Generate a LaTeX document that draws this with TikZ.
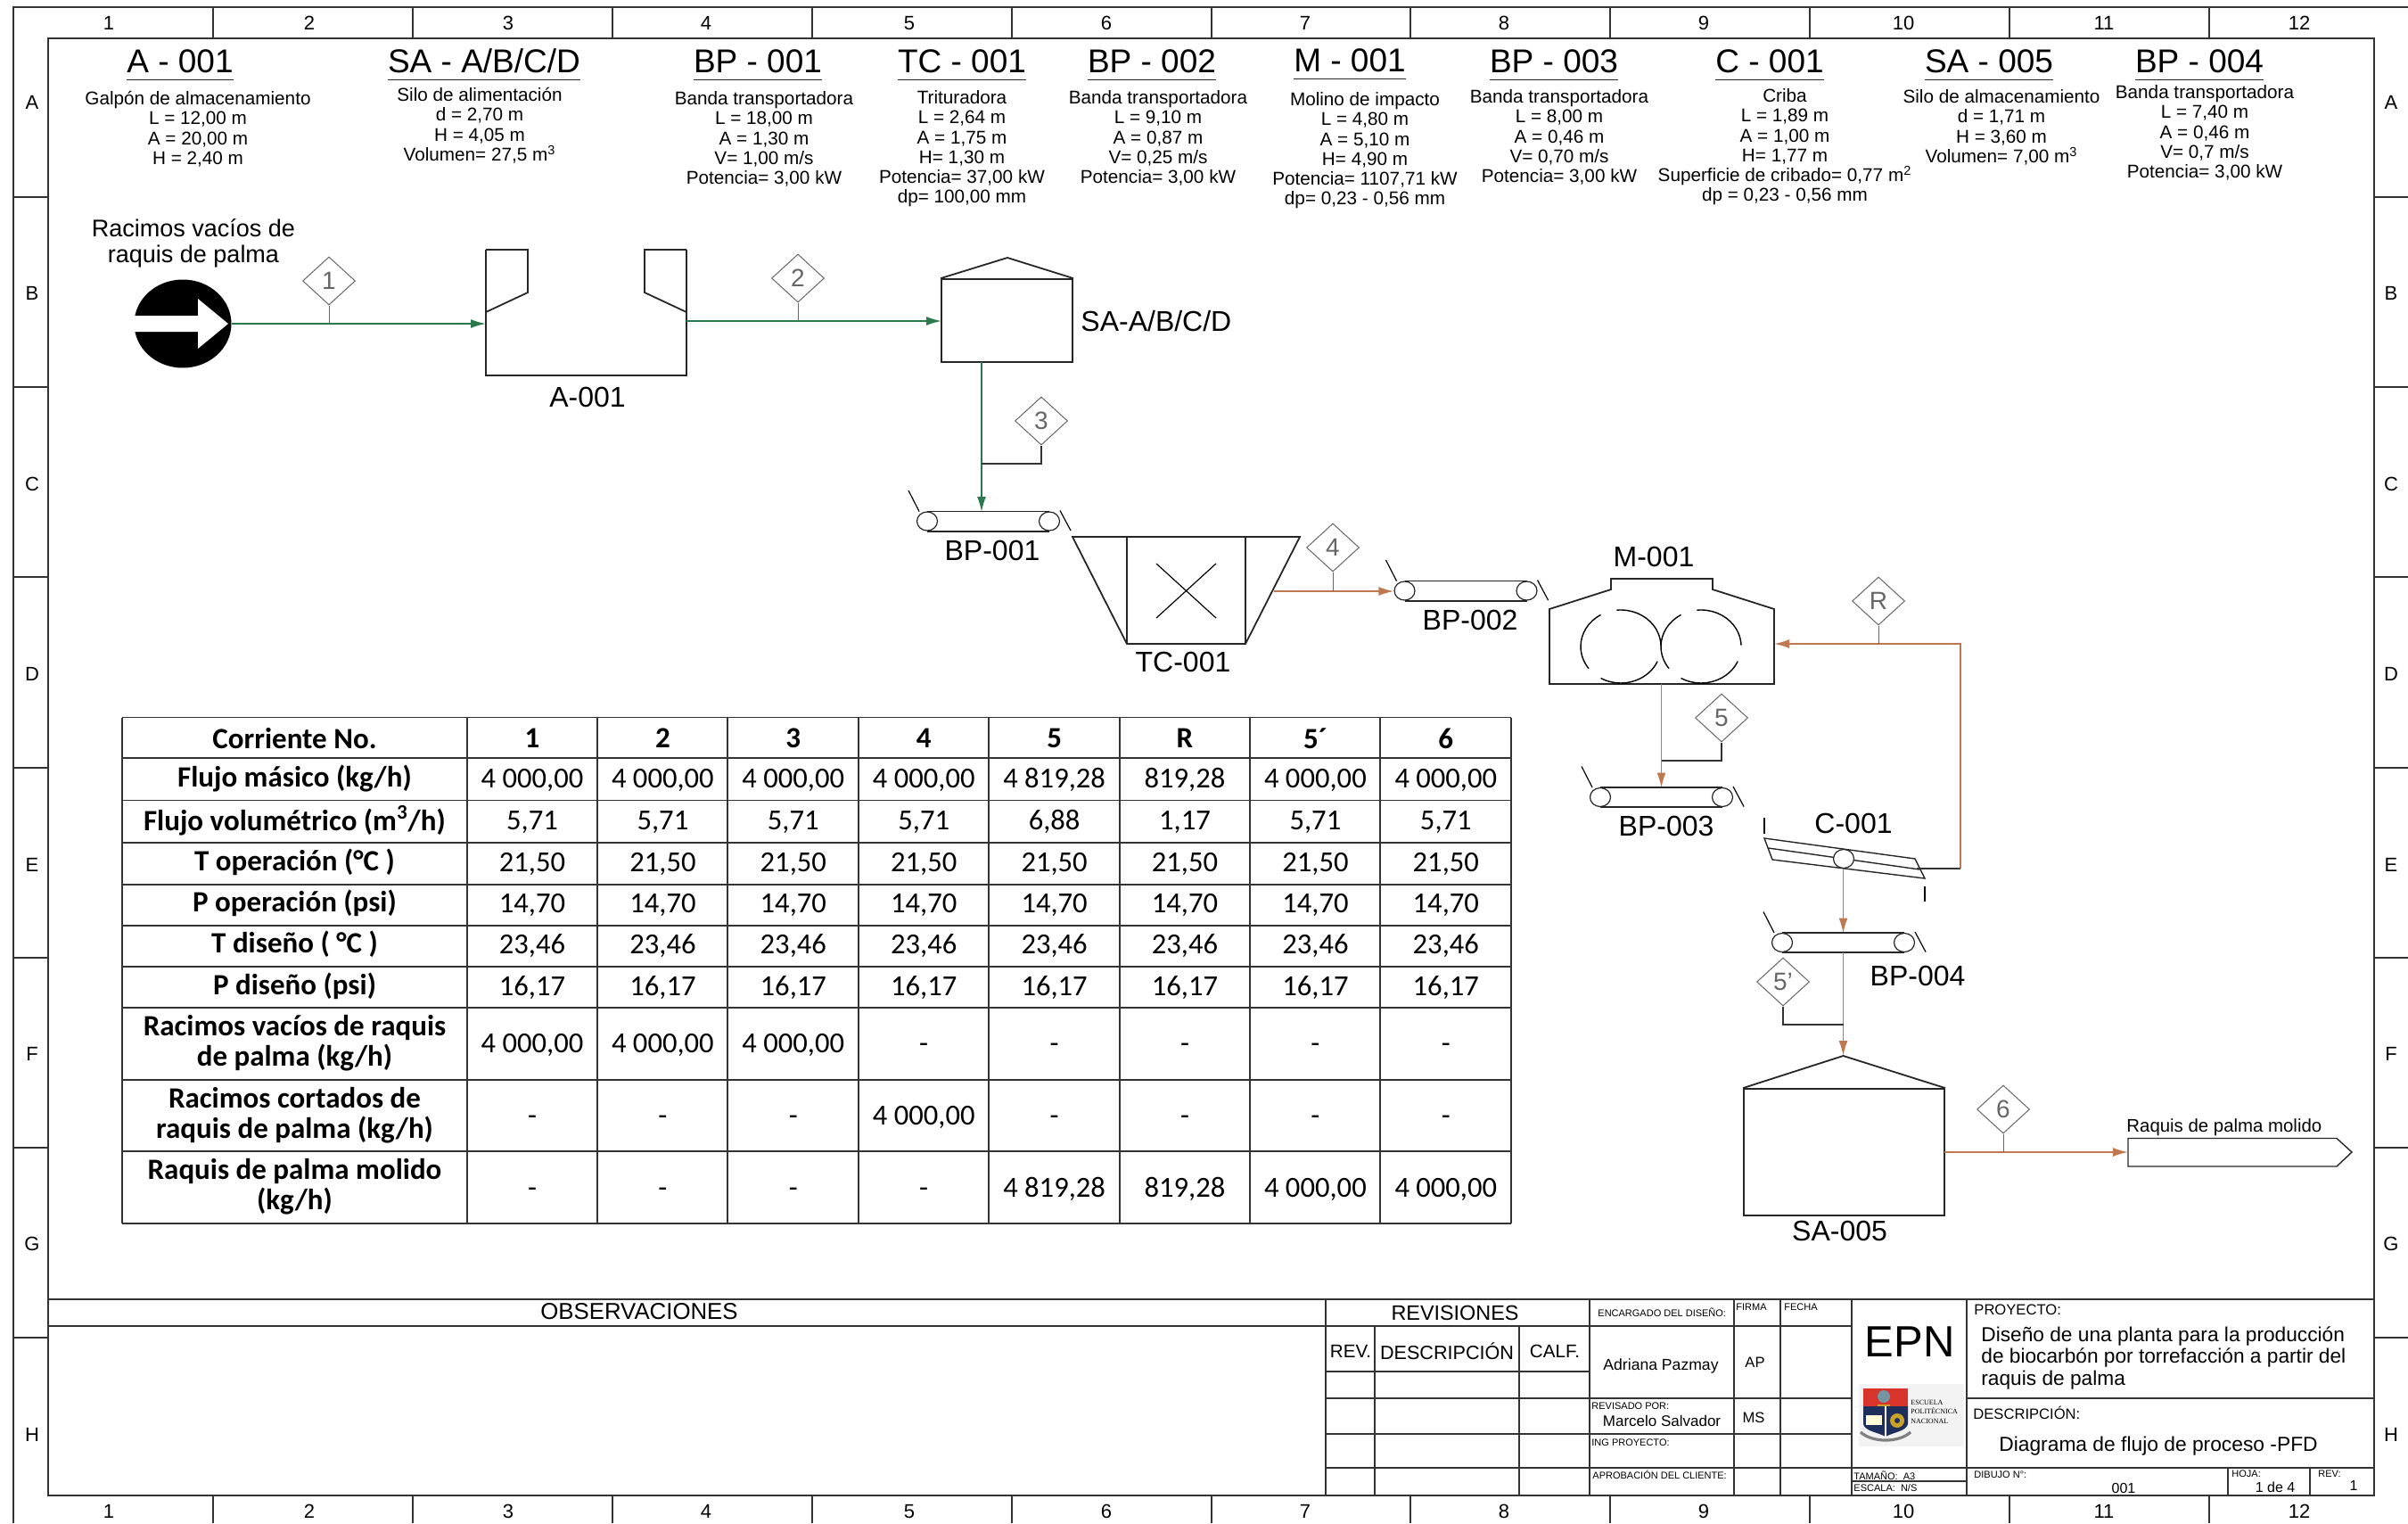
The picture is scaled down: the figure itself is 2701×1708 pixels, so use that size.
\documentclass[tikz,border=0pt]{standalone}
\usepackage{fontspec}
\usepackage{xcolor}
\setmainfont{Liberation Sans}
\newfontfamily\tablafont{Carlito}
\newfontfamily\escudofont{Liberation Serif}
\usetikzlibrary{arrows.meta,shapes.geometric}
\definecolor{flujoverde}{HTML}{2A7A4E}
\definecolor{flujonaranja}{HTML}{BF7850}
\definecolor{marcotinta}{HTML}{333333}
\definecolor{taggris}{HTML}{666666}
\definecolor{escudorojo}{HTML}{D8342B}
\definecolor{escudoazul}{HTML}{1F2F5C}
\definecolor{escudooro}{HTML}{C9A227}
\definecolor{escudofondo}{HTML}{F3F3F3}

\begin{document}
\begin{tikzpicture}[
  x=0.5pt,y=-0.5pt,
  marco/.style={draw=marcotinta,line width=0.9pt},
  equipo/.style={draw=black!85,line width=0.9pt},
  rejilla/.style={draw=marcotinta,line width=0.7pt},
  verde/.style={draw=flujoverde,line width=0.9pt,-{Latex[length=8.5pt,width=5pt]}},
  naranja/.style={draw=flujonaranja,line width=0.9pt,-{Latex[length=8.5pt,width=5pt]}},
  tag/.style={diamond,draw=taggris,line width=0.5pt,text=taggris,minimum width=29.5pt,minimum height=27pt,inner sep=0pt,font=\fontsize{14}{15}\selectfont},
  tagfino/.style={draw=taggris,line width=0.5pt},
  tagcodo/.style={draw=black!80,line width=0.7pt},
  rodillo/.style={ellipse,draw=black!85,line width=0.6pt,fill=white,minimum width=11.5pt,minimum height=10.5pt,inner sep=0pt},
  etiqueta/.style={inner sep=0pt,font=\fontsize{16}{17}\selectfont},
  eqtitulo/.style={inner sep=0pt,anchor=base,text depth=0pt,font=\fontsize{18.5}{20}\selectfont},
  subrayado/.style={draw=black!85,line width=0.8pt},
  spec/.style={inner sep=0pt,anchor=north,align=center,font=\fontsize{10.35}{11.15}\selectfont},
  indice/.style={inner sep=0pt,font=\fontsize{11}{12}\selectfont},
  celda/.style={inner sep=0pt,text height=10.5pt,text depth=0pt,font=\tablafont\fontsize{16.3}{17}\selectfont},
  cabecera/.style={inner sep=0pt,align=center,font=\tablafont\bfseries\fontsize{16.5}{17}\selectfont},
  mini/.style={inner sep=0pt,anchor=west,font=\fontsize{5.5}{6}\selectfont},
  medio/.style={inner sep=0pt,font=\fontsize{8.3}{9}\selectfont}
]
\useasboundingbox (0,0) rectangle (2701,1708);

\draw[marco] (15,1708) -- (15,8) -- (2701,8);
\draw[marco] (54,43) rectangle (2663,1677);
\foreach \mx in {239,463,687,911,1135,1359,1582,1806,2030,2254,2478} {
  \draw[marco] (\mx,8) -- (\mx,43);
  \draw[marco] (\mx,1677) -- (\mx,1708);
}
\foreach \my in {221,434,647,861,1074,1287,1500} {
  \draw[marco] (15,\my) -- (54,\my);
  \draw[marco] (2663,\my) -- (2701,\my);
}
\foreach \mx [count=\mi] in {122,347,570,792,1020,1241,1464,1687,1911,2135,2360,2579} {
  \node[indice] (colsup\mi) at (\mx,26) {\mi};
  \node[indice] (colinf\mi) at (\mx,1695) {\mi};
}
\foreach \my/\ml in {115/A,329/B,543/C,756/D,970/E,1182/F,1395/G,1609/H} {
  \node[indice] (filaizq\ml) at (36,\my) {\ml};
  \node[indice] (filader\ml) at (2682,\my) {\ml};
}

\foreach \tx/\ty/\tname/\ttext in {202/81/tA/{A - 001},543/81/tSA/{SA - A/B/C/D},850/81/tBPa/{BP - 001},1079/81/tTC/{TC - 001},1292/81/tBPb/{BP - 002},1514/80/tM/{M - 001},1743/81/tBPc/{BP - 003},1985/81/tC/{C - 001},2231/81/tSE/{SA - 005},2467/81/tBPd/{BP - 004}} {
  \node[eqtitulo] (\tname) at (\tx,\ty) {\ttext};
  \draw[subrayado] ([yshift=-4pt]\tname.south west) -- ([yshift=-4pt]\tname.south east);
}
\node[spec] (specA) at (222,102) {Galpón de almacenamiento\\L = 12,00 m\\A = 20,00 m\\H = 2,40 m};
\node[spec] (specSA) at (538,98) {Silo de alimentación\\d = 2,70 m\\H = 4,05 m\\Volumen= 27,5 m\textsuperscript{3}};
\node[spec] (specBPa) at (857,102) {Banda transportadora\\L = 18,00 m\\A = 1,30 m\\V= 1,00 m/s\\Potencia= 3,00 kW};
\node[spec] (specTC) at (1079,101) {Trituradora\\L = 2,64 m\\A = 1,75 m\\H= 1,30 m\\Potencia= 37,00 kW\\dp= 100,00 mm};
\node[spec] (specBPb) at (1299,101) {Banda transportadora\\L = 9,10 m\\A = 0,87 m\\V= 0,25 m/s\\Potencia= 3,00 kW};
\node[spec] (specM) at (1531,103) {Molino de impacto\\L = 4,80 m\\A = 5,10 m\\H= 4,90 m\\Potencia= 1107,71 kW\\dp= 0,23 - 0,56 mm};
\node[spec] (specBPc) at (1749,100) {Banda transportadora\\L = 8,00 m\\A = 0,46 m\\V= 0,70 m/s\\Potencia= 3,00 kW};
\node[spec] (specC) at (2002,99) {Criba\\L = 1,89 m\\A = 1,00 m\\H= 1,77 m\\Superficie de cribado= 0,77 m\textsuperscript{2}\\dp = 0,23 - 0,56 mm};
\node[spec] (specSE) at (2245,100) {Silo de almacenamiento\\d = 1,71 m\\H = 3,60 m\\Volumen= 7,00 m\textsuperscript{3}};
\node[spec] (specBPd) at (2473,95) {Banda transportadora\\L = 7,40 m\\A = 0,46 m\\V= 0,7 m/s\\Potencia= 3,00 kW};

\node[inner sep=0pt,align=center,font=\fontsize{13.5}{14.5}\selectfont] (racimos) at (217,273) {Racimos vacíos de\\raquis de palma};
\node[ellipse,fill=black,minimum width=54.5pt,minimum height=49.5pt,inner sep=0pt] (entrada) at (205,363) {};
\fill[white] (150,354) -- (222,354) -- (222,335) -- (256,363) -- (222,391) -- (222,372) -- (150,372) -- cycle;

\draw[equipo] (545,280) -- (592,280) -- (592,328) -- (545,350);
\draw[equipo] (770,280) -- (723,280) -- (723,328) -- (770,350);
\draw[equipo] (545,280) -- (545,421) -- (770,421) -- (770,280);
\coordinate (almin) at (545,363);
\coordinate (almout) at (770,360);
\node[etiqueta] (lblalm) at (659,445) {A-001};

\node[equipo,rectangle,minimum width=73.5pt,minimum height=46.5pt,inner sep=0pt] (silo) at (1129.5,359.5) {};
\coordinate (silotecho) at (1130,289);
\draw[equipo] (silo.north west) -- (silotecho) -- (silo.north east);
\coordinate (silosal) at (1101,406);
\coordinate (siloin) at (1056,360);
\node[etiqueta,anchor=west] (lblsilo) at (1212,360) {SA-A/B/C/D};

\foreach \bx/\by/\bname in {1108.5/584.5/bpa,1644/662.5/bpb,1863.5/894/bpc,2067.5/1057/bpd} {
  \node[rodillo] (\bname-izq) at (\bx-68.5,\by) {};
  \node[rodillo] (\bname-der) at (\bx+68.5,\by) {};
  \draw[equipo] (\bname-izq.north) -- (\bname-der.north);
  \draw[equipo] (\bname-izq.south) -- (\bname-der.south);
  \draw[line width=0.6pt] (\bx-89.5,\by-34.5) -- (\bx-77.5,\by-11);
  \draw[line width=0.6pt] (\bx+80.5,\by-12) -- (\bx+92.5,\by+10.5);
  \coordinate (\bname) at (\bx,\by-10.5);
  \coordinate (\bname-bajo) at (\bx,\by+10.5);
}
\node[etiqueta] (lblbpa) at (1113,617) {BP-001};
\node[etiqueta] (lblbpb) at (1649,695) {BP-002};
\node[etiqueta] (lblbpc) at (1869,926) {BP-003};
\node[etiqueta] (lblbpd) at (2151,1094) {BP-004};

\draw[equipo] (1203,602) -- (1458,602) -- (1397,722) -- (1264,722) -- cycle;
\draw[equipo,line width=0.7pt] (1264,602) -- (1264,722);
\draw[equipo,line width=0.7pt] (1397,602) -- (1397,722);
\draw[line width=0.6pt] (1297,632) -- (1364,693);
\draw[line width=0.6pt] (1364,632) -- (1297,693);
\coordinate (tritsal) at (1429,663);
\node[etiqueta] (lbltrit) at (1327,742) {TC-001};

\draw[equipo] (1738,767) -- (1738,683) -- (1807,661) -- (1807,649) -- (1921,649) -- (1921,661) -- (1990,683) -- (1990,767) -- cycle;
\foreach \rx in {1818,1908} {
  \draw[line width=0.7pt] ([shift={(240:45 and 41)}]\rx,725) arc[start angle=240,end angle=143,x radius=45,y radius=41];
  \draw[line width=0.7pt] ([shift={(264:45 and 41)}]\rx,725) arc[start angle=264,end angle=358,x radius=45,y radius=41];
  \draw[line width=0.7pt] ([shift={(120:45 and 41)}]\rx,725) arc[start angle=120,end angle=24,x radius=45,y radius=41];
}
\coordinate (molinsal) at (1863.5,767);
\coordinate (molinin) at (1990,722);
\node[etiqueta] (lblmol) at (1855,624) {M-001};

\draw[equipo,line width=0.7pt] (1979,940) -- (2148,963) -- (2159,985) -- (1988,964) -- cycle;
\draw[equipo,line width=0.7pt] (1983.5,951) -- (2153,975);
\node[rodillo] (cribarod) at (2068,963) {};
\draw[line width=0.6pt] (1979,917) -- (1979,935);
\draw[line width=0.6pt] (2159,994) -- (2159,1011);
\coordinate (cribasal) at (2067.5,975);
\coordinate (cribader) at (2150,974);
\coordinate (cribacodo) at (2199,974);
\coordinate (recicodo) at (2199,722);
\node[etiqueta] (lblcrib) at (2079,923) {C-001};

\node[equipo,rectangle,minimum width=112.5pt,minimum height=71pt,inner sep=0pt] (tolva) at (2068.5,1292) {};
\coordinate (tolvatecho) at (2067.5,1184);
\draw[equipo] (tolva.north west) -- (tolvatecho) -- (tolva.north east);
\node[etiqueta] (lbltolva) at (2063.5,1380) {SA-005};
\coordinate (tolvasal) at (2181,1292);

\draw[equipo,line width=0.7pt] (2387,1276.5) -- (2621,1276.5) -- (2638,1292) -- (2621,1308) -- (2387,1308) -- cycle;
\coordinate (prodin) at (2387,1292);
\node[inner sep=0pt,anchor=west,font=\fontsize{10.2}{11}\selectfont] (lblprod) at (2385,1264) {Raquis de palma molido};

\draw[verde] (entrada.east) -- (almin);
\draw[verde] (almout) -- (siloin);
\draw[verde] (silosal) -- (silosal |- bpa);
\draw[naranja] (tritsal) -- (tritsal -| bpb-izq.west);
\draw[naranja] (molinsal) -- (bpc);
\draw[tagcodo] (cribader) -- (cribacodo);
\draw[naranja] (cribacodo) -- (recicodo) -- (molinin);
\draw[naranja] (cribasal) -- (bpd);
\draw[naranja] (bpd-bajo) -- (tolvatecho);
\draw[naranja] (tolvasal) -- (prodin);

\node[tag] (tag1) at (369,315) {1};
\draw[tagfino] (tag1.south) -- (369,363);
\node[tag] (tag2) at (895,312) {2};
\draw[tagfino] (tag2.south) -- (895,360);
\node[tag] (tag3) at (1168,472) {3};
\coordinate (codo3) at (1101,520);
\draw[tagcodo] (tag3.south) |- (codo3);
\node[tag] (tag4) at (1495,614) {4};
\draw[tagfino] (tag4.south) -- (1495,663);
\node[tag] (tag5) at (1931,805) {5};
\coordinate (codo5) at (1863.5,853);
\draw[tagcodo] (tag5.south) |- (codo5);
\node[tag] (tagR) at (2107,674) {R};
\draw[tagfino] (tagR.south) -- (2107,722);
\node[tag] (tag5p) at (2000,1101) {5'};
\coordinate (codo5p) at (2067.5,1149);
\draw[tagcodo] (tag5p.south) |- (codo5p);
\node[tag] (tag6) at (2247,1244) {6};
\draw[tagfino] (tag6.south) -- (2247,1292);

\foreach \gx in {137,524,670,816,963,1109,1256,1402,1548,1695} {
  \draw[rejilla] (\gx,804.5) -- (\gx,1372);
}
\foreach \gy in {804.5,850,897.5,945,992,1038,1084,1130,1211,1291,1372} {
  \draw[rejilla] (137,\gy) -- (1695,\gy);
}
\node[cabecera] (f1) at (330.5,828) {Corriente No.};
\node[cabecera] (f2) at (330.5,873) {Flujo másico (kg/h)};
\node[cabecera] (f3) at (330.5,920) {Flujo volumétrico (m\textsuperscript{3}/h)};
\node[cabecera] (f4) at (330.5,967) {T operación (°C )};
\node[cabecera] (f5) at (330.5,1013) {P operación (psi)};
\node[cabecera] (f6) at (330.5,1059) {T diseño ( °C )};
\node[cabecera] (f7) at (330.5,1106) {P diseño (psi)};
\node[cabecera] (f8) at (330.5,1170) {Racimos vacíos de raquis\\de palma (kg/h)};
\node[cabecera] (f9) at (330.5,1251) {Racimos cortados de\\raquis de palma (kg/h)};
\node[cabecera] (f10) at (330.5,1331) {Raquis de palma molido\\(kg/h)};
\foreach \val [count=\cc] in {1,2,3,4,5,R,5´,6}
  \node[cabecera] (f1c\cc) at ({597+146.4*(\cc-1)},828) {\val};
\foreach \val [count=\cc] in {{4 000,00},{4 000,00},{4 000,00},{4 000,00},{4 819,28},{819,28},{4 000,00},{4 000,00}}
  \node[celda] (f2c\cc) at ({597+146.4*(\cc-1)},873) {\val};
\foreach \val [count=\cc] in {{5,71},{5,71},{5,71},{5,71},{6,88},{1,17},{5,71},{5,71}}
  \node[celda] (f3c\cc) at ({597+146.4*(\cc-1)},920) {\val};
\foreach \val [count=\cc] in {{21,50},{21,50},{21,50},{21,50},{21,50},{21,50},{21,50},{21,50}}
  \node[celda] (f4c\cc) at ({597+146.4*(\cc-1)},967) {\val};
\foreach \val [count=\cc] in {{14,70},{14,70},{14,70},{14,70},{14,70},{14,70},{14,70},{14,70}}
  \node[celda] (f5c\cc) at ({597+146.4*(\cc-1)},1013) {\val};
\foreach \val [count=\cc] in {{23,46},{23,46},{23,46},{23,46},{23,46},{23,46},{23,46},{23,46}}
  \node[celda] (f6c\cc) at ({597+146.4*(\cc-1)},1059) {\val};
\foreach \val [count=\cc] in {{16,17},{16,17},{16,17},{16,17},{16,17},{16,17},{16,17},{16,17}}
  \node[celda] (f7c\cc) at ({597+146.4*(\cc-1)},1106) {\val};
\foreach \val [count=\cc] in {{4 000,00},{4 000,00},{4 000,00},-,-,-,-,-}
  \node[celda] (f8c\cc) at ({597+146.4*(\cc-1)},1170) {\val};
\foreach \val [count=\cc] in {-,-,-,{4 000,00},-,-,-,-}
  \node[celda] (f9c\cc) at ({597+146.4*(\cc-1)},1251) {\val};
\foreach \val [count=\cc] in {-,-,-,-,{4 819,28},{819,28},{4 000,00},{4 000,00}}
  \node[celda] (f10c\cc) at ({597+146.4*(\cc-1)},1332) {\val};

\draw[marco] (54,1457) -- (2663,1457);
\draw[marco] (54,1487) -- (2077,1487);
\foreach \bx in {1487,1783,1945,1997,2077,2206}
  \draw[marco] (\bx,1457) -- (\bx,1677);
\foreach \bx in {1542,1704}
  \draw[marco] (\bx,1487) -- (\bx,1677);
\draw[marco] (1487,1538) -- (1783,1538);
\draw[marco] (1487,1568) -- (2077,1568);
\draw[marco] (2206,1568) -- (2663,1568);
\draw[marco] (1487,1608) -- (2077,1608);
\draw[marco] (1487,1646) -- (2663,1646);
\draw[marco] (2077,1661) -- (2206,1661);
\foreach \bx in {2499,2591}
  \draw[marco] (\bx,1646) -- (\bx,1677);

\node[inner sep=0pt,font=\fontsize{12.9}{13}\selectfont] (obs) at (717,1471) {OBSERVACIONES};
\node[inner sep=0pt,font=\fontsize{11.7}{12}\selectfont] (rev) at (1632,1472) {REVISIONES};
\node[medio,font=\fontsize{10.3}{11}\selectfont] (revcol) at (1515,1515) {REV.};
\node[medio,font=\fontsize{10.8}{11}\selectfont] (revdesc) at (1623,1515) {DESCRIPCIÓN};
\node[medio,font=\fontsize{10.3}{11}\selectfont] (revcalf) at (1744,1515) {CALF.};
\node[mini] (encargado) at (1792,1472) {ENCARGADO DEL DISEÑO:};
\node[mini] (firma) at (1947,1466) {FIRMA};
\node[mini] (fecha) at (2001,1466) {FECHA};
\node[medio,font=\fontsize{8.8}{9}\selectfont] (adriana) at (1863,1532) {Adriana Pazmay};
\node[medio] (ap) at (1968.5,1528) {AP};
\node[mini] (revisado) at (1785,1577) {REVISADO POR:};
\node[medio,font=\fontsize{8.5}{9}\selectfont] (marcelo) at (1864,1593) {Marcelo Salvador};
\node[medio] (ms) at (1967,1590) {MS};
\node[mini] (ingpro) at (1785,1618) {ING PROYECTO:};
\node[mini] (aprob) at (1786,1654) {APROBACIÓN DEL CLIENTE:};
\node[inner sep=0pt,font=\fontsize{24.5}{25}\selectfont] (epn) at (2142,1505) {EPN};
\node[mini] (tamano) at (2079,1655) {TAMAÑO:\ \ A3};
\node[mini] (escala) at (2079,1669) {ESCALA:\ \ N/S};
\node[medio,anchor=west] (proyecto) at (2214,1469) {PROYECTO:};
\node[inner sep=0pt,anchor=north west,align=left,font=\fontsize{11.35}{12.3}\selectfont] (titulo) at (2222,1487) {Diseño de una planta para la producción\\de biocarbón por torrefacción a partir del\\raquis de palma};
\node[medio,anchor=west] (descrip) at (2213,1584) {DESCRIPCIÓN:};
\node[inner sep=0pt,font=\fontsize{11.4}{12}\selectfont] (diagrama) at (2421,1622) {Diagrama de flujo de proceso -PFD};
\node[mini] (dibujo) at (2214,1654) {DIBUJO N°:};
\node[medio,font=\fontsize{8}{9}\selectfont] (num) at (2382,1669) {001};
\node[mini] (hoja) at (2503,1653) {HOJA:};
\node[medio,font=\fontsize{8}{9}\selectfont] (hojan) at (2552,1668) {1 de 4};
\node[mini] (revb) at (2600,1653) {REV:};
\node[medio,font=\fontsize{8}{9}\selectfont] (revn) at (2640,1666) {1};

\fill[escudofondo] (2085,1552) rectangle (2203,1622);
\fill[escudorojo] (2090,1557) rectangle (2140,1577);
\fill[escudoazul] (2090,1577) -- (2140,1577) -- (2140,1597) .. controls (2138,1605) and (2124,1606) .. (2115,1611) .. controls (2106,1606) and (2092,1605) .. (2090,1597) -- cycle;
\fill[black!25!cyan!40!gray] (2113,1566) circle[radius=7];
\fill[escudooro] (2106,1575) rectangle (2120,1577);
\draw[white,line width=0.6pt] (2115,1577) -- (2115,1611);
\fill[yellow!15] (2093,1587) rectangle (2111,1598);
\fill[escudooro] (2128,1593) circle[radius=8];
\fill[escudoazul] (2128,1593) circle[radius=3];
\draw[gray,line width=1.6pt] (2087,1606) .. controls (2100,1618) and (2130,1618) .. (2143,1606);
\node[inner sep=0pt,anchor=west,align=left,font=\escudofont\fontsize{4}{5.3}\selectfont] (escuela) at (2143,1583) {ESCUELA\\POLITÉCNICA\\NACIONAL};
\end{tikzpicture}
\end{document}
